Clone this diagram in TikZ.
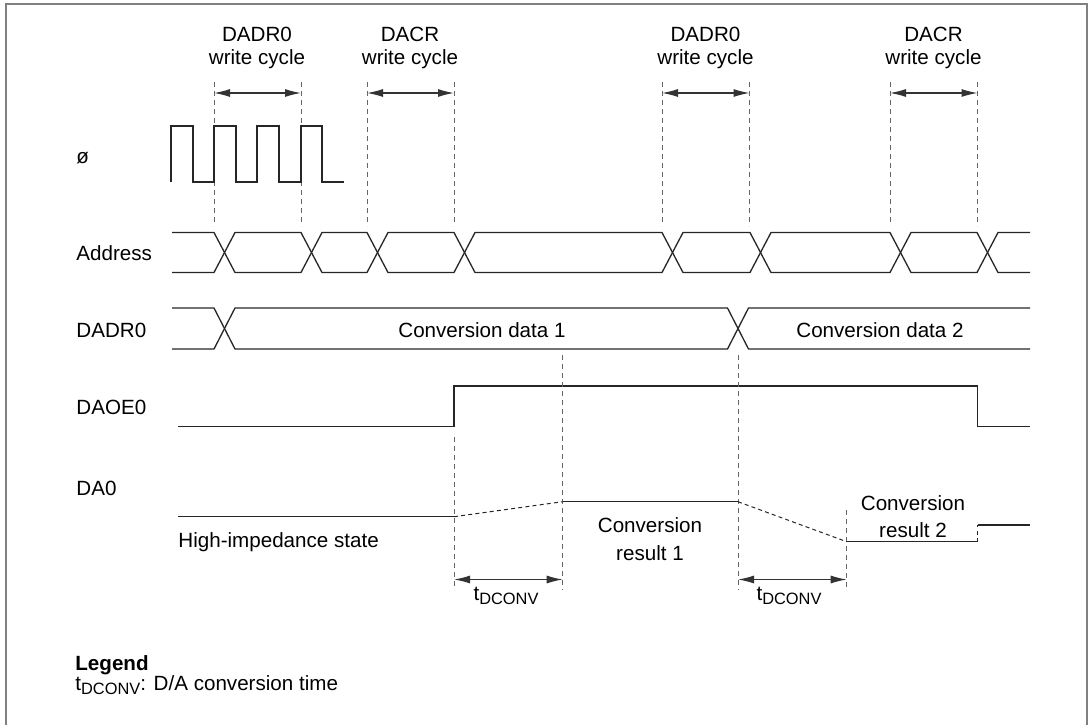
\documentclass[tikz,border=0pt]{standalone}
\usepackage{fontspec}
\setmainfont{Liberation Sans}
\usetikzlibrary{arrows.meta}
\newcommand{\tdc}{t\raisebox{-0.45ex}{\fontsize{8.2}{9}\selectfont DCONV}}
\begin{document}
\begin{tikzpicture}[x=0.5pt,y=-0.5pt,
  sig/.style={line width=0.65pt,black!85,line join=miter},
  guide/.style={line width=0.5pt,black!60,dash pattern=on 2.5pt off 2pt},
  slope/.style={line width=0.5pt,black!85,dash pattern=on 2pt off 1.6pt},
  dim/.style={line width=0.6pt,black!80,{Latex[length=8pt,width=4pt]}-{Latex[length=8pt,width=4pt]}},
  lbl/.style={font=\fontsize{10.3}{12}\selectfont,inner sep=0pt,anchor=base},
  rowlbl/.style={lbl,anchor=base west},
  frame/.style={line width=1pt,black!50}]
\useasboundingbox (0,0) rectangle (1091,724);
% frame
\draw[frame] (6,730) -- (6,4) -- (1087,4) -- (1087,730);
% top labels
\node[lbl] (l1a) at (257,41) {DADR0};
\node[lbl] (l1b) at (257,64) {write cycle};
\node[lbl] (l2a) at (410,41) {DACR};
\node[lbl] (l2b) at (410,64) {write cycle};
\node[lbl] (l3a) at (705.5,41) {DADR0};
\node[lbl] (l3b) at (705.5,64) {write cycle};
\node[lbl] (l4a) at (933.5,41) {DACR};
\node[lbl] (l4b) at (933.5,64) {write cycle};
% row labels
\node[rowlbl] (rphi) at (76,163) {ø};
\node[rowlbl] (radr) at (76,260) {Address};
\node[rowlbl] (rdadr) at (76,337) {DADR0};
\node[rowlbl] (rdaoe) at (76,414) {DAOE0};
\node[rowlbl] (rda) at (76,495) {DA0};
% guide lines top
\foreach \x in {214,301,367,454,662,749.5,890,977.5}{
  \draw[guide] (\x,82) -- (\x,226);
}
% write-cycle arrows
\coordinate (a1) at (214,93); \coordinate (b1) at (301,93);
\coordinate (a2) at (367,93); \coordinate (b2) at (454,93);
\coordinate (a3) at (662,93); \coordinate (b3) at (749.5,93);
\coordinate (a4) at (890,93); \coordinate (b4) at (977.5,93);
\draw[dim] (a1) -- (b1);
\draw[dim] (a2) -- (b2);
\draw[dim] (a3) -- (b3);
\draw[dim] (a4) -- (b4);
% clock
\draw[sig] (171,182) -- (171,126) -- (193,126) -- (193,182) -- (214,182) -- (214,126) -- (236,126) -- (236,182) -- (257,182) -- (257,126) -- (279,126) -- (279,182) -- (301,182) -- (301,126) -- (322,126) -- (322,182) -- (344,182);
% address bus
\def\T{232.5}\def\B{272.5}
\draw[sig] (172,\T) -- (214,\T) -- (235,\B) -- (301,\B) -- (322,\T) -- (367,\T) -- (388,\B) -- (454,\B) -- (475,\T) -- (662,\T) -- (683,\B) -- (750,\B) -- (771,\T) -- (890,\T) -- (911,\B) -- (977,\B) -- (998,\T) -- (1030,\T);
\draw[sig] (172,\B) -- (214,\B) -- (235,\T) -- (301,\T) -- (322,\B) -- (367,\B) -- (388,\T) -- (454,\T) -- (475,\B) -- (662,\B) -- (683,\T) -- (750,\T) -- (771,\B) -- (890,\B) -- (911,\T) -- (977,\T) -- (998,\B) -- (1030,\B);
% DADR0 bus
\def\T{308}\def\B{349}
\draw[sig] (172,\T) -- (214,\T) -- (235,\B) -- (727.5,\B) -- (748.5,\T) -- (1030,\T);
\draw[sig] (172,\B) -- (214,\B) -- (235,\T) -- (727.5,\T) -- (748.5,\B) -- (1030,\B);
\node[lbl] (cd1) at (482,337) {Conversion data 1};
\node[lbl] (cd2) at (880,337) {Conversion data 2};
% DAOE0
\draw[sig] (178,426.7) -- (454,426.7) -- (454,386) -- (977.7,386) -- (977.7,426.7) -- (1030,426.7);
% lower guide lines
\draw[guide] (454,437) -- (454,590);
\draw[guide] (562.7,355) -- (562.7,590);
\draw[guide] (738,355) -- (738,590);
\draw[guide] (846.7,510) -- (846.7,590);
% DA0
\draw[sig] (178,516.7) -- (454,516.7);
\draw[slope] (454,516.7) -- (562.7,501.7);
\draw[sig] (562.7,501.7) -- (738,501.7);
\draw[slope] (738,501.7) -- (846.7,541.7);
\draw[sig] (846.7,541.7) -- (977.7,541.7);
\draw[slope] (977.7,541.7) -- (977.7,525);
\draw[sig] (977.7,525) -- (1030,525);
\node[rowlbl] (hiz) at (178,547) {High-impedance state};
\node[lbl] (cr1a) at (650,532) {Conversion};
\node[lbl] (cr1b) at (650,560) {result 1};
\node[lbl] (cr2a) at (913,510) {Conversion};
\node[lbl] (cr2b) at (913,537) {result 2};
% tDCONV arrows
\coordinate (c1) at (454,579.5); \coordinate (d1) at (562.7,579.5);
\coordinate (c2) at (738,579.5); \coordinate (d2) at (846.7,579.5);
\draw[dim] (c1) -- (d1);
\draw[dim] (c2) -- (d2);
\node[lbl] (td1) at (506,600) {\tdc};
\node[lbl] (td2) at (789,600) {\tdc};
% legend
\node[rowlbl,font=\fontsize{10.3}{12}\selectfont\bfseries] (leg) at (75,670) {Legend};
\node[rowlbl] (legt) at (75,690) {\tdc: D/A conversion time};
\end{tikzpicture}
\end{document}
